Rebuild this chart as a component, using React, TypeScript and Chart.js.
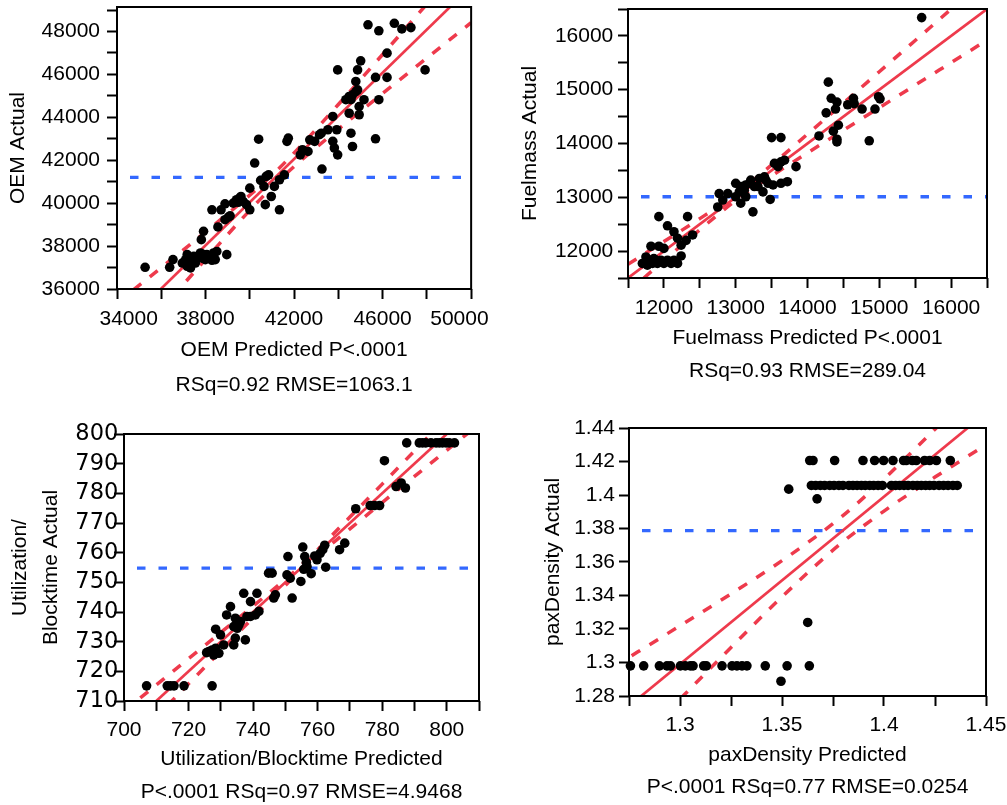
import React, { useEffect, useRef } from "react";
import { Chart, registerables } from "chart.js";

Chart.register(...registerables);

// ================= Panel 1: OEM =================
const oemPredicted = [
  35270, 36380, 36530, 36950, 37100, 37170, 37320, 37470, 37620, 37770, 37910, 38060, 38210, 38360, 38440, 38510, 38960,
  37170, 37320, 37540, 37840, 37990, 38290,
  37810, 37910, 38290, 38560, 38700, 38880, 39030, 38880, 39110, 39250, 39400, 39550, 39700, 39600, 39850, 40000, 39480,
  40000, 40220, 40400, 40490, 40640, 40740, 40850, 40970, 41110, 40700, 41340, 41340, 41560, 41680, 41740, 42280, 42380,
  42630, 42710, 42930, 43150, 43230, 43530, 43750, 43930, 43750, 43820, 43970, 44570, 44640, 45680, 43260,
  44490, 44340, 44490, 44640, 44570, 44790, 44870, 44940, 44940, 45160,
  44790, 44870, 45010, 43970, 45680, 46200, 45830, 46200, 45340, 45830, 46530, 46870, 47280, 47920,
];
const oemActual = [
  37010, 37010, 37370, 37210, 37370, 37600, 37370, 37520, 37440, 37680, 37600, 37600, 37520, 37680, 37370, 37750, 37600,
  37060, 36980, 37210, 37440, 37370, 37340,
  38300, 38690, 39690, 38890, 39690, 39230, 39350, 39970, 39410, 40000, 40160, 40240, 40080, 40310, 39930, 39690, 40040,
  40700, 41870, 42980, 41060, 40780, 41250, 41320, 40310, 40780, 39930, 39690, 41090, 41320, 42880, 43030, 42250, 42490,
  42410, 42950, 42880, 43190, 43260, 43420, 44040, 43420, 42880, 42570, 42250, 43260, 42640, 43000, 41590,
  44190, 44820, 44970, 45050, 44820, 45200, 45280, 44500, 44120, 44820,
  45670, 46210, 46630, 46210, 45860, 45860, 44820, 46990, 48310, 48030, 48380, 48120, 48180, 46210,
];
const oemXRange = [34000, 50000];
const oemYRange = [36000, 49140];
const oemXTicks = [34000, 36000, 38000, 40000, 42000, 44000, 46000, 48000, 50000];
const oemXLabels = ["34000", "", "38000", "", "42000", "", "46000", "", "50000"];
const oemYTicks = [36000, 37000, 38000, 39000, 40000, 41000, 42000, 43000, 44000, 45000, 46000, 47000, 48000, 49000];
const oemYLabels = ["36000", "", "38000", "", "40000", "", "42000", "", "44000", "", "46000", "", "48000", ""];
const oemFitX = [34000, 50000];
const oemFitY = [34010, 50100];
const oemBandX = [34000, 36000, 38000, 40000, 41200, 42500, 44000, 46000, 48000, 50000];
const oemBandUpper = [35346, 36997, 38660, 40374, 41500, 42885, 44597, 46928, 49276, 51629];
const oemBandLower = [32694, 35043, 37380, 39666, 40940, 42155, 43443, 45112, 46764, 48411];
const oemMean = 41200;

// ================= Panel 2: Fuelmass =================
const fuelPredicted = [
  15590, 14290, 14330, 14410, 14390, 14260, 14560, 14640, 14650, 14760, 14940, 14990, 15010, 14160, 14360, 14430, 14410, 14410, 14860,
  13500, 13630, 13840, 13590, 13630, 13680, 13540, 13720, 13630, 13520, 13450, 13400, 13420, 13330, 13380, 13310, 13260, 13210,
  13190, 13120, 13140, 13070, 13000, 13050, 13000, 13140, 12890, 12770, 12820, 12750, 13070, 13240, 13480,
  11930, 12330, 12050, 12140, 12190, 12240, 12400, 12310, 12240, 11820, 11930, 12000, 11750, 11700, 11800, 11860, 11910,
  11960, 12000, 12050, 12100, 12140, 12190, 11770, 11840, 11890,
];
const fuelActual = [
  16340, 15140, 14840, 14770, 14640, 14570, 14720, 14840, 14740, 14640, 14640, 14870, 14830, 14140, 14230, 14340, 14080, 14030, 14050,
  14110, 14110, 13570, 13570, 13660, 13690, 13630, 13290, 13260, 13230, 13260, 13380, 13320, 13350, 13100, 13200, 13200, 13320,
  13260, 13130, 13230, 13200, 13260, 13100, 13010, 13010, 13070, 13070, 12950, 12820, 12890, 12730, 12960,
  12640, 12640, 12470, 12360, 12240, 12110, 12300, 12200, 11910, 12090, 12090, 12050, 11890, 11770, 11830, 11860, 11770,
  11830, 11770, 11830, 11770, 11830, 11770, 11740, 11770, 11830,
];
const fuelXRange = [11500, 16500];
const fuelYRange = [11500, 16500];
const fuelTicks = [11500, 12000, 12500, 13000, 13500, 14000, 14500, 15000, 15500, 16000, 16500];
const fuelLabels = ["", "12000", "", "13000", "", "14000", "", "15000", "", "16000", ""];
const fuelFitX = [11500, 16500];
const fuelFitY = [11500, 16500];
const fuelBandX = [11500, 12000, 12500, 13000, 13500, 14000, 14500, 15000, 15500, 16000, 16500];
const fuelBandUpper = [11756, 12177, 12603, 13060, 13601, 14174, 14753, 15334, 15915, 16497, 17079];
const fuelBandLower = [11244, 11823, 12397, 12940, 13399, 13826, 14247, 14666, 15085, 15503, 15921];
const fuelMean = 13010;

// ================= Panel 3: Utilization/Blocktime =================
const utilPredicted = [
  787.6, 791.5, 792.5, 793.5, 795.1, 796.7, 797.7, 798.7, 799.8, 800.8, 802.4,
  780.7, 784.3, 785.9, 787.2, 771.8, 776.3, 777.6, 779.2, 766.8, 768.4,
  754.8, 755.4, 756.0, 756.5, 755.7, 756.7, 758.0, 759.1, 759.8, 760.8, 762.2, 762.5, 761.6,
  728.4, 729.9, 730.9, 734.0, 734.5, 737.6, 733.0, 731.8, 734.5, 735.6, 735.1, 734.0, 736.1, 738.1,
  739.2, 740.7, 741.8, 741.2, 739.2, 737.1, 745.9, 744.8, 746.9, 746.4, 750.5, 751.5, 752.1, 750.8,
  707.0, 713.4, 714.4, 715.5, 718.6, 727.3,
  726.3, 727.3, 728.4, 729.4, 727.8, 725.6,
];
const utilActual = [
  797.0, 797.0, 797.0, 797.0, 797.0, 797.0, 797.0, 797.0, 797.0, 797.0, 797.0,
  791.0, 782.3, 783.5, 781.8, 774.8, 775.9, 775.9, 775.9, 761.0, 763.2,
  750.3, 761.9, 758.7, 756.7, 754.4, 755.3, 752.9, 758.9, 757.6, 759.8, 762.5, 755.1, 761.0,
  734.2, 732.3, 728.9, 728.9, 731.2, 730.6, 741.8, 739.0, 737.9, 735.6, 734.5, 735.1, 736.8, 738.5,
  738.5, 739.0, 740.2, 746.3, 743.5, 746.3, 753.1, 753.1, 745.8, 744.7, 752.5, 751.4, 744.7, 758.7,
  715.1, 715.1, 715.1, 715.1, 715.1, 715.1,
  726.7, 727.2, 727.8, 726.1, 725.5, 726.3,
];
const utilXRange = [700, 810];
const utilYRange = [710, 800];
const utilXTicks = [700, 710, 720, 730, 740, 750, 760, 770, 780, 790, 800, 810];
const utilXLabels = ["700", "", "720", "", "740", "", "760", "", "780", "", "800", ""];
const utilYTicks = [710, 720, 730, 740, 750, 760, 770, 780, 790, 800];
const utilYLabels = ["710", "720", "730", "740", "750", "760", "770", "780", "790", "800"];
const utilFitX = [700, 810];
const utilFitY = [700, 810];
const utilBandX = [700, 710, 720, 730, 740, 750, 755, 760, 770, 780, 790, 800, 810];
const utilBandUpper = [706.6, 715.4, 724.3, 733.1, 742.0, 751.0, 755.8, 761.0, 772.0, 783.1, 794.3, 805.5, 816.7];
const utilBandLower = [693.4, 704.6, 715.8, 726.9, 738.1, 749.0, 754.2, 759.0, 768.0, 776.9, 785.7, 794.5, 803.3];
const utilMean = 754.8;

// ================= Panel 4: paxDensity =================
const paxRowActual = [1.4206, 1.4057, 1.298];
const paxRowPredicted = [
  [1.3636, 1.3652, 1.3758, 1.3897, 1.3954, 1.3998, 1.4044, 1.4096, 1.4109, 1.4139, 1.4158, 1.4199, 1.4224, 1.4257, 1.4325],
  [1.3644, 1.3665, 1.3688, 1.3709, 1.3734, 1.3755, 1.3779, 1.3799, 1.3828, 1.3848, 1.3868, 1.3889, 1.3908, 1.393, 1.3949,
   1.3971, 1.3992, 1.4036, 1.4057, 1.4077, 1.4098, 1.4118, 1.4142, 1.4163, 1.4183, 1.4204, 1.4224, 1.4245, 1.427, 1.4292,
   1.4314, 1.4338, 1.4359],
  [1.2757, 1.2822, 1.2899, 1.2936, 1.2953, 1.3002, 1.3026, 1.3051, 1.3064, 1.3116, 1.3129, 1.3206, 1.3255, 1.3279, 1.3304,
   1.3328, 1.3418, 1.3525, 1.3634],
];
const paxSinglePredicted = [1.3533, 1.3672, 1.3626, 1.3495];
const paxSingleActual = [1.4035, 1.3977, 1.3239, 1.2888];
const paxXRange = [1.275, 1.45];
const paxYRange = [1.28, 1.44];
const paxXTicks = [1.275, 1.3, 1.325, 1.35, 1.375, 1.4, 1.425, 1.45];
const paxXLabels = ["", "1.3", "", "1.35", "", "1.4", "", "1.45"];
const paxYTicks = [1.28, 1.3, 1.32, 1.34, 1.36, 1.38, 1.4, 1.42, 1.44];
const paxYLabels = ["1.28", "1.3", "1.32", "1.34", "1.36", "1.38", "1.4", "1.42", "1.44"];
const paxFitX = [1.25, 1.47];
const paxFitY = [1.249, 1.469];
const paxBandX = [1.25, 1.275, 1.3, 1.325, 1.35, 1.3787, 1.4, 1.425, 1.45, 1.47];
const paxBandUpper = [1.2844, 1.3031, 1.3219, 1.341, 1.3608, 1.3865, 1.4096, 1.4393, 1.4701, 1.495];
const paxBandLower = [1.2156, 1.2469, 1.2781, 1.309, 1.3392, 1.3709, 1.3904, 1.4107, 1.4299, 1.445];
const paxMean = 1.3787;

// ================= styling =================
const RED = "rgb(238,58,76)";
const BLUE = "rgb(51,104,255)";
const SANS = "'Liberation Sans', Arial, sans-serif";
const WIDE = "'DejaVu Sans', sans-serif";

const zip = (xs: number[], ys: number[]) => xs.map((x, i) => ({ x, y: ys[i] }));

const framePlugin = {
  id: "plotFrame",
  afterDatasetsDraw(chart: any) {
    const { ctx, chartArea } = chart;
    ctx.save();
    ctx.strokeStyle = "#000";
    ctx.lineWidth = 2;
    ctx.strokeRect(chartArea.left, chartArea.top, chartArea.right - chartArea.left, chartArea.bottom - chartArea.top);
    ctx.restore();
  },
};

type Spec = {
  box: { left: number; top: number; width: number; height: number };
  pad: { left: number; top: number; right: number; bottom: number };
  yAxisWidth: number;
  xAxisHeight: number;
  points: { x: number; y: number }[];
  xRange: number[];
  yRange: number[];
  xTicks: number[];
  xLabels: string[];
  yTicks: number[];
  yLabels: string[];
  fit: { x: number; y: number }[];
  upper: { x: number; y: number }[];
  lower: { x: number; y: number }[];
  mean: number;
  xTitle: string[];
  yTitle: string | string[];
  xTitleLH: number;
  yTitleLH: number;
  yTitlePad: number;
  xTickPad: number;
  yTickPad: number;
  yTickFont: { family: string; size: number };
  shiftEdgeLabels?: boolean;
};

function Panel({ spec }: { spec: Spec }) {
  const ref = useRef<HTMLCanvasElement>(null);
  useEffect(() => {
    if (!ref.current) return;
    const s = spec;
    const meanPts = [
      { x: s.xRange[0], y: s.mean },
      { x: s.xRange[1], y: s.mean },
    ];
    const gridOpts = {
      display: true,
      drawOnChartArea: false,
      drawTicks: true,
      tickLength: 10,
      tickWidth: 2,
      tickColor: "#000",
      color: "#000",
    };
    const chart = new Chart(ref.current, {
      type: "scatter",
      data: {
        datasets: [
          {
            data: s.points,
            backgroundColor: "#000",
            borderWidth: 0,
            pointRadius: 4.8,
            pointHoverRadius: 4.8,
            clip: false,
          } as any,
          {
            data: s.fit,
            showLine: true,
            borderColor: RED,
            borderWidth: 2.7,
            pointRadius: 0,
          },
          {
            data: s.upper,
            showLine: true,
            borderColor: RED,
            borderWidth: 3.5,
            borderDash: [10, 11],
            pointRadius: 0,
            cubicInterpolationMode: "monotone",
          },
          {
            data: s.lower,
            showLine: true,
            borderColor: RED,
            borderWidth: 3.5,
            borderDash: [10, 11],
            pointRadius: 0,
            cubicInterpolationMode: "monotone",
          },
          {
            data: meanPts,
            showLine: true,
            borderColor: BLUE,
            borderWidth: 3.3,
            borderDash: [8.5, 13],
            borderDashOffset: 8.5,
            pointRadius: 0,
          },
        ],
      },
      options: {
        animation: false,
        responsive: false,
        devicePixelRatio: 1,
        events: [],
        layout: { padding: s.pad, autoPadding: false },
        plugins: { legend: { display: false }, tooltip: { enabled: false } },
        scales: {
          x: {
            type: "linear",
            position: "bottom",
            min: s.xRange[0],
            max: s.xRange[1],
            afterBuildTicks: (sc: any) => {
              sc.ticks = s.xTicks.map((v) => ({ value: v }));
            },
            afterFit: (sc: any) => {
              sc.height = s.xAxisHeight;
            },
            grid: gridOpts,
            border: { display: false },
            ticks: {
              autoSkip: false,
              maxRotation: 0,
              minRotation: 0,
              padding: s.xTickPad,
              color: "#000",
              font: { family: SANS, size: 21 },
              callback: (_v: any, i: number) => {
                const lab = s.xLabels[i] ?? "";
                if (s.shiftEdgeLabels && lab) {
                  if (i === 0) return "    " + lab;
                  if (i === s.xLabels.length - 1) return lab + "    ";
                }
                return lab;
              },
            },
            title: {
              display: true,
              text: s.xTitle,
              color: "#000",
              font: { family: SANS, size: 21, lineHeight: s.xTitleLH },
              padding: { top: 0, bottom: 0 },
            },
          },
          y: {
            type: "linear",
            position: "left",
            min: s.yRange[0],
            max: s.yRange[1],
            afterBuildTicks: (sc: any) => {
              sc.ticks = s.yTicks.map((v) => ({ value: v }));
            },
            afterFit: (sc: any) => {
              sc.width = s.yAxisWidth;
            },
            grid: gridOpts,
            border: { display: false },
            ticks: {
              autoSkip: false,
              padding: s.yTickPad,
              color: "#000",
              font: s.yTickFont,
              callback: (_v: any, i: number) => s.yLabels[i] ?? "",
            },
            title: {
              display: true,
              text: s.yTitle,
              color: "#000",
              font: { family: SANS, size: 21, lineHeight: s.yTitleLH },
              padding: { top: s.yTitlePad, bottom: 0 },
            },
          },
        },
      } as any,
      plugins: [framePlugin],
    });
    return () => chart.destroy();
  }, [spec]);

  return (
    <canvas
      ref={ref}
      width={spec.box.width}
      height={spec.box.height}
      style={{
        position: "absolute",
        left: spec.box.left,
        top: spec.box.top,
        width: spec.box.width,
        height: spec.box.height,
      }}
    />
  );
}

const paxPoints = [
  ...paxRowPredicted.flatMap((row, r) => row.map((x) => ({ x, y: paxRowActual[r] }))),
  ...zip(paxSinglePredicted, paxSingleActual),
];

const specs: Spec[] = [
  {
    box: { left: 0, top: -20, width: 520, height: 430 },
    pad: { left: 0, top: 27, right: 45, bottom: 7 },
    yAxisWidth: 117,
    xAxisHeight: 114,
    points: zip(oemPredicted, oemActual),
    xRange: oemXRange,
    yRange: oemYRange,
    xTicks: oemXTicks,
    xLabels: oemXLabels,
    yTicks: oemYTicks,
    yLabels: oemYLabels,
    fit: zip(oemFitX, oemFitY),
    upper: zip(oemBandX, oemBandUpper),
    lower: zip(oemBandX, oemBandLower),
    mean: oemMean,
    xTitle: ["OEM Predicted P<.0001", "RSq=0.92 RMSE=1063.1"],
    yTitle: "OEM Actual",
    xTitleLH: 35 / 21,
    yTitleLH: 1.2,
    yTitlePad: 5.7,
    xTickPad: 8,
    yTickPad: 7,
    yTickFont: { family: SANS, size: 21 },
    shiftEdgeLabels: true,
  },
  {
    box: { left: 500, top: -20, width: 507, height: 410 },
    pad: { left: 0, top: 29, right: 20, bottom: 3 },
    yAxisWidth: 128,
    xAxisHeight: 109,
    points: zip(fuelPredicted, fuelActual),
    xRange: fuelXRange,
    yRange: fuelYRange,
    xTicks: fuelTicks,
    xLabels: fuelLabels,
    yTicks: fuelTicks,
    yLabels: fuelLabels,
    fit: zip(fuelFitX, fuelFitY),
    upper: zip(fuelBandX, fuelBandUpper),
    lower: zip(fuelBandX, fuelBandLower),
    mean: fuelMean,
    xTitle: ["Fuelmass Predicted P<.0001", "RSq=0.93 RMSE=289.04"],
    yTitle: "Fuelmass Actual",
    xTitleLH: 32.4 / 21,
    yTitleLH: 1.2,
    yTitlePad: 17.4,
    xTickPad: 8,
    yTickPad: 4.7,
    yTickFont: { family: SANS, size: 21 },
  },
  {
    box: { left: 0, top: 400, width: 520, height: 415 },
    pad: { left: 0, top: 34, right: 41, bottom: 6 },
    yAxisWidth: 124,
    xAxisHeight: 108,
    points: zip(utilPredicted, utilActual),
    xRange: utilXRange,
    yRange: utilYRange,
    xTicks: utilXTicks,
    xLabels: utilXLabels,
    yTicks: utilYTicks,
    yLabels: utilYLabels,
    fit: zip(utilFitX, utilFitY),
    upper: zip(utilBandX, utilBandUpper),
    lower: zip(utilBandX, utilBandLower),
    mean: utilMean,
    xTitle: ["Utilization/Blocktime Predicted", "P<.0001 RSq=0.97 RMSE=4.9468"],
    yTitle: ["Utilization/", "Blocktime Actual"],
    xTitleLH: 33.3 / 21,
    yTitleLH: 31.7 / 21,
    yTitlePad: 4.15,
    xTickPad: 7,
    yTickPad: -4.3,
    yTickFont: { family: WIDE, size: 22.5 },
  },
  {
    box: { left: 500, top: 400, width: 530, height: 410 },
    pad: { left: 0, top: 28, right: 44, bottom: 7 },
    yAxisWidth: 129,
    xAxisHeight: 107,
    points: paxPoints,
    xRange: paxXRange,
    yRange: paxYRange,
    xTicks: paxXTicks,
    xLabels: paxXLabels,
    yTicks: paxYTicks,
    yLabels: paxYLabels,
    fit: zip(paxFitX, paxFitY),
    upper: zip(paxBandX, paxBandUpper),
    lower: zip(paxBandX, paxBandLower),
    mean: paxMean,
    xTitle: ["paxDensity Predicted", "P<.0001 RSq=0.77 RMSE=0.0254"],
    yTitle: "paxDensity Actual",
    xTitleLH: 31.6 / 21,
    yTitleLH: 1.2,
    yTitlePad: 40.7,
    xTickPad: 7,
    yTickPad: 4,
    yTickFont: { family: SANS, size: 21 },
  },
];

export default function App() {
  return (
    <div
      style={{
        position: "fixed",
        left: 0,
        top: 0,
        width: 1007,
        height: 805,
        overflow: "hidden",
        background: "#fff",
      }}
    >
      {specs.map((s, i) => (
        <Panel key={i} spec={s} />
      ))}
    </div>
  );
}
